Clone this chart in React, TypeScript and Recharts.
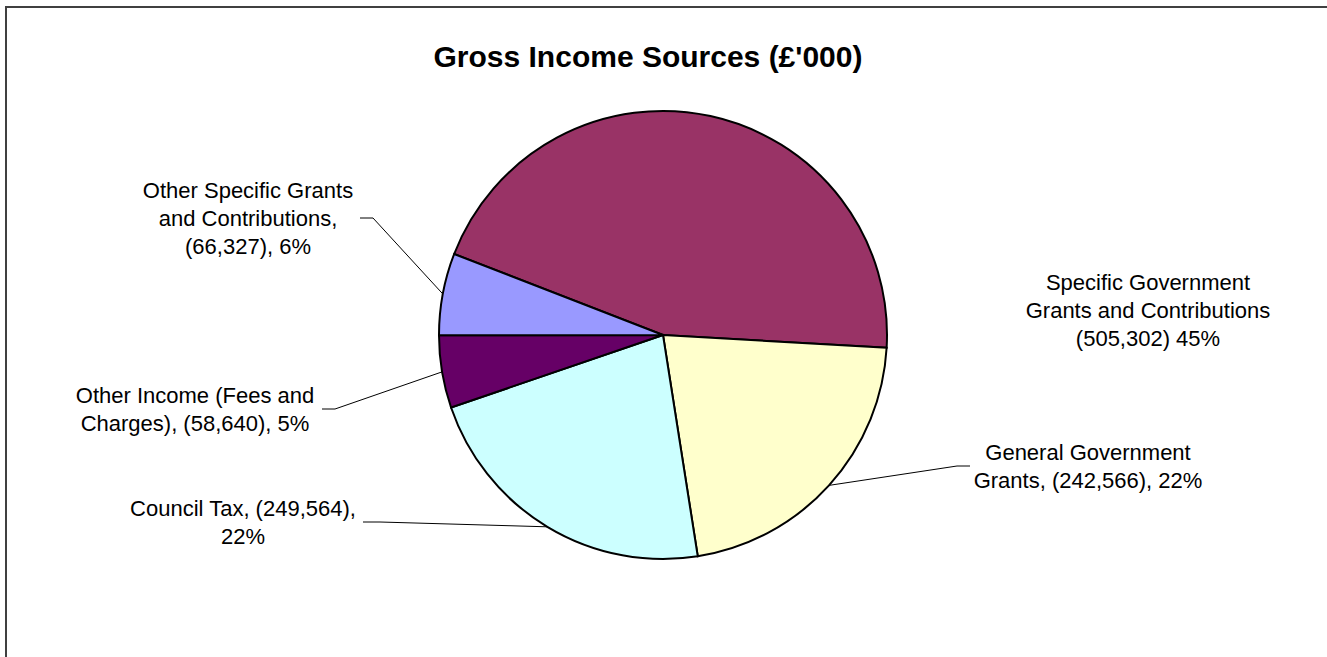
import { PieChart, Pie, Cell } from 'recharts';

// Gross income sources, £'000
const categories = [
  'Specific Government Grants and Contributions',
  'General Government Grants',
  'Council Tax',
  'Other Income (Fees and Charges)',
  'Other Specific Grants and Contributions',
];
const values = [505302, 242566, 249564, 58640, 66327];
const labelLines = [
  ['Specific Government', 'Grants and Contributions', '(505,302) 45%'],
  ['General Government', 'Grants, (242,566), 22%'],
  ['Council Tax, (249,564),', '22%'],
  ['Other Income (Fees and', 'Charges), (58,640), 5%'],
  ['Other Specific Grants', 'and Contributions,', '(66,327), 6%'],
];
const colors = ['#993366', '#FFFFCC', '#CCFFFF', '#660066', '#9999FF'];

// label placement relative to pie centre (text centre, leader end, elbow)
const labelPlace = [
  { tx: 485, ty: -25, end: null, elbow: null },
  { tx: 425, ty: 131, end: 307, elbow: 294 },
  { tx: -420, ty: 187, end: -300, elbow: -283 },
  { tx: -468, ty: 74, end: -341, elbow: -328 },
  { tx: -415, ty: -117, end: -303, elbow: -290 },
];

const chartData = categories.map((name, i) => ({ name, value: values[i] }));

const FONT = '"Liberation Sans", Arial, sans-serif';
const RAD = Math.PI / 180;

const renderLabel = (props: any) => {
  const { cx, cy, midAngle, outerRadius, index } = props;
  const place = labelPlace[index];
  const lines = labelLines[index];
  const lh = 28;
  const fs = 22;
  const tx = cx + place.tx;
  const ty = cy + place.ty;
  const ex = cx + outerRadius * Math.cos(midAngle * RAD);
  const ey = cy - outerRadius * Math.sin(midAngle * RAD);
  return (
    <g key={`lbl-${index}`}>
      {place.end !== null && (
        <polyline
          points={`${ex},${ey} ${cx + place.elbow!},${ty} ${cx + place.end},${ty}`}
          fill="none"
          stroke="#000"
          strokeWidth={1}
        />
      )}
      {lines.map((t, i) => (
        <text
          key={i}
          x={tx}
          y={ty + (i - (lines.length - 1) / 2) * lh + fs * 0.36}
          textAnchor="middle"
          fontFamily={FONT}
          fontSize={fs}
          fill="#000"
        >
          {t}
        </text>
      ))}
    </g>
  );
};

const App = () => {
  return (
    <div style={{ position: 'relative', width: 1327, height: 657, overflow: 'hidden', background: '#fff' }}>
      <style>{'html,body{margin:0;padding:0;overflow:hidden}'}</style>
      <div
        style={{
          position: 'absolute',
          left: 5,
          top: 6,
          width: 1400,
          height: 700,
          borderTop: '2px solid #404040',
          borderLeft: '2px solid #404040',
        }}
      />
      <svg width={1327} height={100} style={{ position: 'absolute', left: 0, top: 0 }}>
        <text x={648} y={67} textAnchor="middle" fontFamily={FONT} fontSize={30} fontWeight="bold" fill="#000">
          Gross Income Sources (£'000)
        </text>
      </svg>
      <div style={{ position: 'absolute', left: 0, top: 0 }}>
        <PieChart width={1327} height={657} margin={{ top: 0, right: 0, bottom: 0, left: 0 }}>
          <Pie
            data={chartData}
            dataKey="value"
            nameKey="name"
            cx={663}
            cy={335}
            outerRadius={224}
            startAngle={158.8}
            endAngle={-201.2}
            stroke="#000"
            strokeWidth={2}
            label={renderLabel}
            labelLine={false}
            isAnimationActive={false}
          >
            {chartData.map((d, i) => (
              <Cell key={d.name} fill={colors[i]} />
            ))}
          </Pie>
        </PieChart>
      </div>
    </div>
  );
};

export default App;
